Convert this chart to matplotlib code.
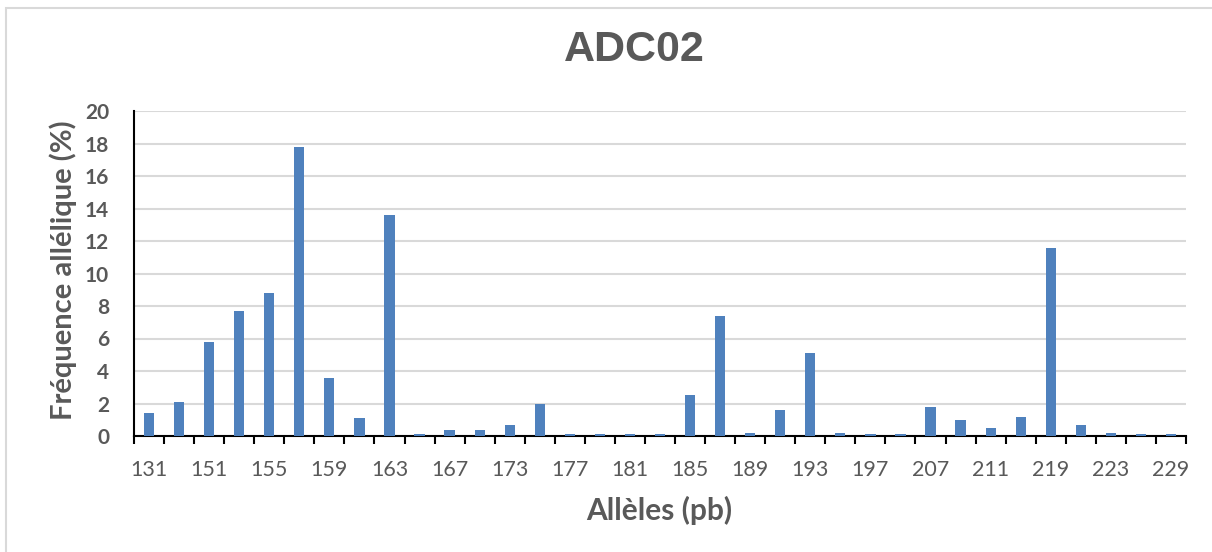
import matplotlib
matplotlib.use("Agg")
import matplotlib.pyplot as plt
from matplotlib.patches import Rectangle
import numpy as np

alleles = ["131", "149", "151", "153", "155", "157", "159", "161", "163", "165",
           "167", "171", "173", "175", "177", "179", "181", "183", "185", "187",
           "189", "191", "193", "195", "197", "205", "207", "209", "211", "217",
           "219", "221", "223", "227", "229"]
frequences = [1.4, 2.1, 5.8, 7.7, 8.8, 17.8, 3.6, 1.1, 13.6, 0.1,
              0.4, 0.4, 0.7, 2.0, 0.1, 0.1, 0.1, 0.1, 2.5, 7.4,
              0.2, 1.6, 5.1, 0.2, 0.1, 0.1, 1.8, 1.0, 0.5, 1.2,
              11.6, 0.7, 0.2, 0.1, 0.1]
yticks = [0, 2, 4, 6, 8, 10, 12, 14, 16, 18, 20]

W, H = 1212, 552
fig = plt.figure(figsize=(W / 100, H / 100), dpi=100)
fig.patches.append(Rectangle((6 / W, -0.05), 1.2, (552 - 8) / H + 0.05,
                             transform=fig.transFigure, fill=False,
                             edgecolor="#D9D9D9", linewidth=1.5))

ax = fig.add_axes([134 / W, (H - 436) / H, (1186 - 134) / W, (436 - 111) / H])
x = np.arange(len(alleles))
ax.bar(x, frequences, width=0.34, color="#4F81BD", zorder=3)

ax.set_xlim(-0.5, len(alleles) - 0.5)
ax.set_ylim(0, 20)
ax.set_yticks(yticks)
ax.set_yticklabels([str(v) for v in yticks], fontfamily="Lato", fontweight="bold",
                   fontsize=15, color="#595959")
ax.tick_params(axis="y", length=0, pad=18)
ax.yaxis.grid(True, color="#D9D9D9", linewidth=1.5, zorder=0)

ax.set_xticks(np.arange(-0.5, len(alleles), 1.0))
ax.set_xticklabels([])
ax.tick_params(axis="x", which="major", direction="out", length=6, width=1.5, color="black")
ax.set_xticks(x[::2], minor=True)
ax.set_xticklabels(alleles[::2], minor=True, fontfamily="Lato", fontsize=15.5, color="#595959")
ax.tick_params(axis="x", which="minor", length=0, pad=17)

for s in ["top", "right"]:
    ax.spines[s].set_visible(False)
ax.spines["left"].set_color("black")
ax.spines["left"].set_linewidth(1.5)
ax.spines["bottom"].set_color("black")
ax.spines["bottom"].set_linewidth(1.5)

fig.text(63 / W, 1 - 270 / H, "Fréquence allélique (%)", rotation=90,
         ha="center", va="center", fontfamily="Lato", fontweight="bold",
         fontsize=21, color="#595959")
fig.text(659 / W, 1 - 510 / H, "Allèles (pb)", ha="center", va="center",
         fontfamily="Lato", fontweight="bold", fontsize=21.5, color="#595959")
fig.text(634 / W, 1 - 50 / H, "ADC02", ha="center", va="center",
         fontfamily="Liberation Sans", fontweight="bold", fontsize=31, color="#595959")

fig.savefig("out.png", dpi=100, facecolor="white")
